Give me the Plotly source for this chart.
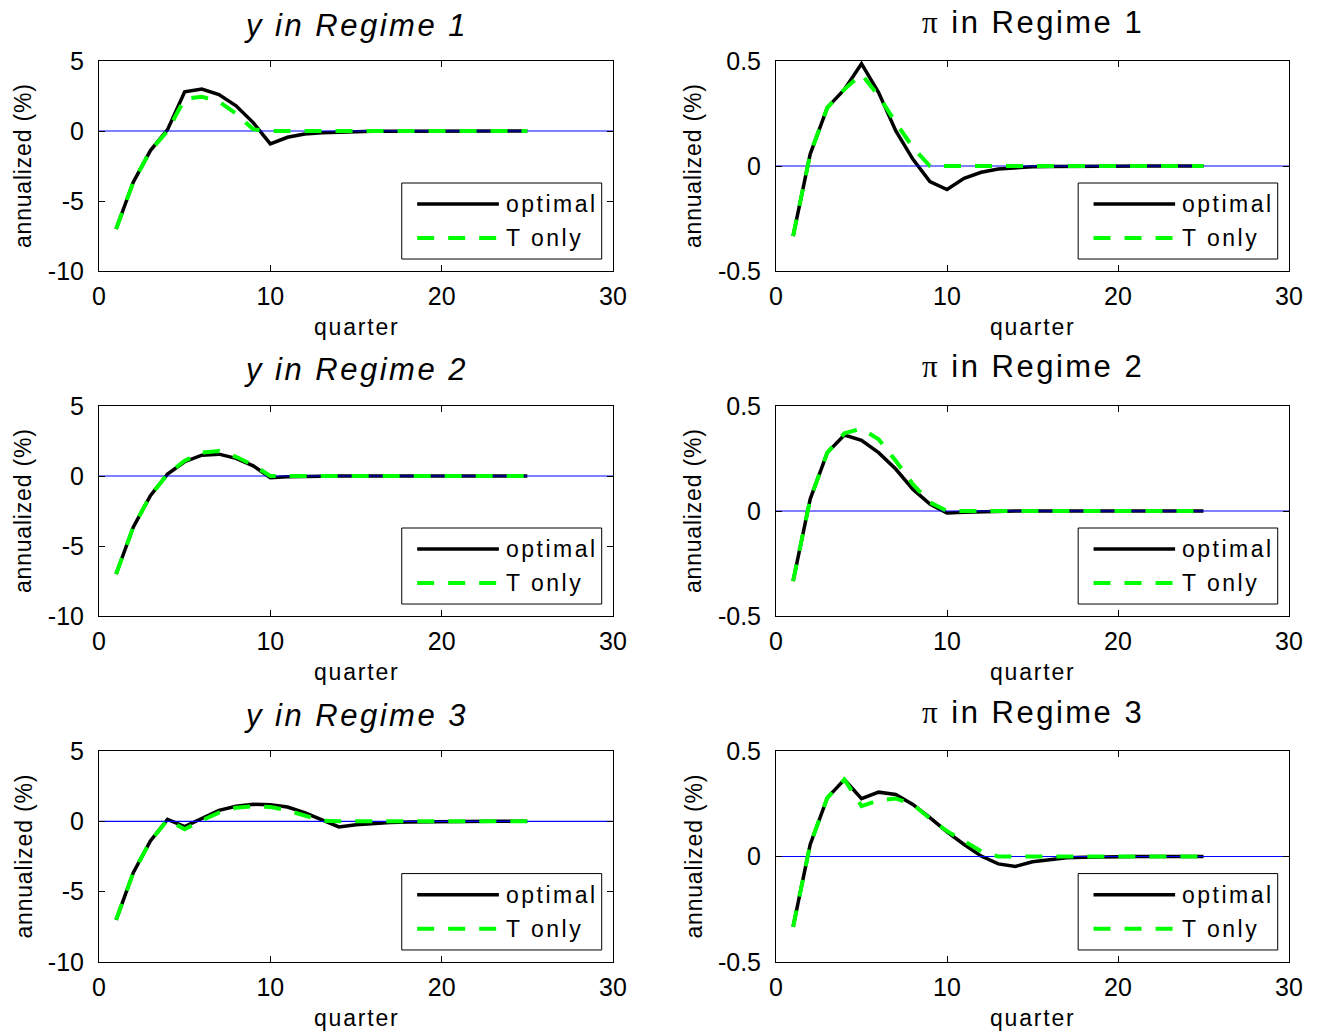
import plotly.graph_objects as go

# ---------------- data ----------------
quarter = list(range(1, 26))

y_r1_optimal = [-7.0, -3.65, -1.4, 0.1, 2.8, 3.0, 2.6, 1.8, 0.6, -0.92, -0.45, -0.22, -0.12,
                -0.07, -0.04, -0.02, -0.01, 0, 0, 0, 0, 0, 0, 0, 0]
y_r1_tonly = [-7.0, -3.65, -1.4, 0.0, 2.3, 2.45, 2.1, 1.25, 0.12, 0, 0, 0, 0,
              0, 0, 0, 0, 0, 0, 0, 0, 0, 0, 0, 0]

pi_r1_optimal = [-0.334, 0.057, 0.278, 0.365, 0.487, 0.35, 0.168, 0.033, -0.074, -0.112, -0.059,
                 -0.03, -0.014, -0.008, -0.004, -0.002, -0.001, 0, 0, 0, 0, 0, 0, 0, 0]
pi_r1_tonly = [-0.334, 0.057, 0.278, 0.365, 0.437, 0.334, 0.207, 0.089, 0.0, 0, 0,
               0, 0, 0, 0, 0, 0, 0, 0, 0, 0, 0, 0, 0, 0]

y_r2_optimal = [-7.0, -3.65, -1.4, 0.14, 1.02, 1.49, 1.56, 1.26, 0.73, -0.12, -0.05, -0.02,
                -0.01, 0, 0, 0, 0, 0, 0, 0, 0, 0, 0, 0, 0]
y_r2_tonly = [-7.0, -3.65, -1.4, 0.14, 1.09, 1.68, 1.78, 1.37, 0.78, 0.0, 0, 0,
              0, 0, 0, 0, 0, 0, 0, 0, 0, 0, 0, 0, 0]

pi_r2_optimal = [-0.334, 0.057, 0.278, 0.362, 0.337, 0.278, 0.2, 0.104, 0.033, -0.01, -0.006,
                 -0.003, -0.001, 0, 0, 0, 0, 0, 0, 0, 0, 0, 0, 0, 0]
pi_r2_tonly = [-0.334, 0.057, 0.278, 0.37, 0.392, 0.342, 0.239, 0.128, 0.041, 0.0, 0,
               0, 0, 0, 0, 0, 0, 0, 0, 0, 0, 0, 0, 0, 0]

y_r3_optimal = [-7.0, -3.65, -1.4, 0.14, -0.38, 0.21, 0.78, 1.07, 1.21, 1.18, 1.02, 0.62, 0.12,
                -0.4, -0.24, -0.14, -0.09, -0.05, -0.03, -0.015, -0.008, 0, 0, 0, 0]
y_r3_tonly = [-7.0, -3.65, -1.4, 0.1, -0.57, 0.07, 0.62, 0.97, 1.07, 1.02, 0.78, 0.38, 0.05,
              0, 0, 0, 0, 0, 0, 0, 0, 0, 0, 0, 0]

pi_r3_optimal = [-0.334, 0.057, 0.278, 0.365, 0.274, 0.305, 0.294, 0.247, 0.184, 0.117, 0.057,
                 0.002, -0.035, -0.047, -0.025, -0.014, -0.006, -0.003, -0.001, 0, 0, 0, 0, 0, 0]
pi_r3_tonly = [-0.334, 0.057, 0.278, 0.365, 0.239, 0.266, 0.275, 0.247, 0.18, 0.12, 0.073,
               0.025, 0.0, 0, 0, 0, 0, 0, 0, 0, 0, 0, 0, 0, 0]

zero_x = [0, 30]
zero_y = [0, 0]

x_range = [0, 30]
x_tickvals = [0, 10, 20, 30]
x_ticktext = ["0", "10", "20", "30"]
y_range = [-10, 5]
y_tickvals = [-10, -5, 0, 5]
y_ticktext = ["-10", "-5", "0", "5"]
pi_range = [-0.5, 0.5]
pi_tickvals = [-0.5, 0, 0.5]
pi_ticktext = ["-0.5", "0", "0.5"]

panel_titles = ["y in Regime 1", "π in Regime 1",
                "y in Regime 2", "π in Regime 2",
                "y in Regime 3", "π in Regime 3"]
series_names = ["optimal", "T only"]
x_label = "quarter"
y_label = "annualized (%)"

panels = [
    (y_r1_optimal, y_r1_tonly), (pi_r1_optimal, pi_r1_tonly),
    (y_r2_optimal, y_r2_tonly), (pi_r2_optimal, pi_r2_tonly),
    (y_r3_optimal, y_r3_tonly), (pi_r3_optimal, pi_r3_tonly),
]

# ---------------- layout geometry (pixels) ----------------
W, H = 1322, 1032
col_px = [(99, 613), (776, 1289)]
row_px = [(61, 271), (406, 616), (751, 962)]

FONT = "Liberation Sans"
DASH = "17px,14px"


def fx(px):
    return px / W


def fy(py):
    return 1 - py / H


def spaced(text, sp):
    return f'<span style="letter-spacing:{sp}px">{text}</span>'


fig = go.Figure()
annotations = []
shapes = []

for i, (opt, tonly) in enumerate(panels):
    r, c = divmod(i, 2)
    n = i + 1
    xa = "x" if n == 1 else f"x{n}"
    ya = "y" if n == 1 else f"y{n}"
    fig.add_trace(go.Scatter(x=quarter, y=opt, mode="lines", name=series_names[0],
                             line=dict(color="black", width=3.5), xaxis=xa, yaxis=ya,
                             showlegend=False))
    fig.add_trace(go.Scatter(x=zero_x, y=zero_y, mode="lines", line=dict(color="#0000ff", width=1.2),
                             xaxis=xa, yaxis=ya, showlegend=False, hoverinfo="skip"))
    fig.add_trace(go.Scatter(x=quarter, y=tonly, mode="lines", name=series_names[1],
                             line=dict(color="#00ff00", width=4, dash=DASH),
                             xaxis=xa, yaxis=ya, showlegend=False))

    x0, x1 = col_px[c]
    t, b = row_px[r]
    axis_common = dict(showline=True, linecolor="black", linewidth=1, mirror="ticks",
                       ticks="inside", ticklen=6, tickcolor="black", tickwidth=1,
                       showgrid=False, zeroline=False, automargin=False,
                       tickfont=dict(family=FONT, size=25, color="black"))
    xkey = "xaxis" if n == 1 else f"xaxis{n}"
    ykey = "yaxis" if n == 1 else f"yaxis{n}"
    fig.layout[xkey] = dict(domain=[fx(x0), fx(x1)], anchor=ya, range=x_range,
                            tickmode="array", tickvals=x_tickvals, ticktext=x_ticktext,
                            ticklabelstandoff=3, **axis_common)
    if c == 0:
        yr, yv, yt = y_range, y_tickvals, y_ticktext
    else:
        yr, yv, yt = pi_range, pi_tickvals, pi_ticktext
    fig.layout[ykey] = dict(domain=[fy(b), fy(t)], anchor=xa, range=yr,
                            tickmode="array", tickvals=yv, ticktext=yt,
                            ticklabelstandoff=9, **axis_common)

    cx = (x0 + x1) / 2
    cy = (t + b) / 2
    # title
    if c == 0:
        annotations.append(dict(text=spaced(panel_titles[i], 2.5), x=fx(cx), y=fy(t - 36),
                                xref="paper", yref="paper", showarrow=False,
                                xanchor="center", yanchor="middle",
                                font=dict(family=FONT, size=31, color="black", style="italic")))
    else:
        ttl = panel_titles[i].replace("π", "<span style=\"font-family:'Liberation Serif'\">π</span>")
        annotations.append(dict(text=spaced(ttl, 2.5), x=fx(cx), y=fy(t - 39),
                                xref="paper", yref="paper", showarrow=False,
                                xanchor="center", yanchor="middle",
                                font=dict(family=FONT, size=31, color="black")))
    # x label
    annotations.append(dict(text=spaced(x_label, 1.8), x=fx(cx), y=fy(b + 56),
                            xref="paper", yref="paper", showarrow=False,
                            xanchor="center", yanchor="middle",
                            font=dict(family=FONT, size=23, color="black")))
    # y label
    ylx = 23 if c == 0 else 693
    annotations.append(dict(text=spaced(y_label, 0.8), x=fx(ylx), y=fy(cy), textangle=-90,
                            xref="paper", yref="paper", showarrow=False,
                            xanchor="center", yanchor="middle",
                            font=dict(family=FONT, size=23, color="black")))
    # legend box
    xd = f"{xa} domain"
    yd = f"{ya} domain"
    shapes.append(dict(type="rect", xref=xd, yref=yd, x0=0.589, x1=0.978, y0=0.057, y1=0.419,
                       line=dict(color="black", width=1), fillcolor="white", layer="above"))
    shapes.append(dict(type="line", xref=xd, yref=yd, x0=0.619, x1=0.778, y0=0.319, y1=0.319,
                       line=dict(color="black", width=3.5), layer="above"))
    shapes.append(dict(type="line", xref=xd, yref=yd, x0=0.619, x1=0.778, y0=0.157, y1=0.157,
                       line=dict(color="#00ff00", width=4, dash=DASH), layer="above"))
    for k, yy in enumerate([0.319, 0.157]):
        annotations.append(dict(text=spaced(series_names[k], 2.5), x=0.788, y=yy,
                                xref=xd, yref=yd, showarrow=False,
                                xanchor="left", yanchor="middle",
                                font=dict(family=FONT, size=23, color="black")))

fig.update_layout(width=W, height=H, autosize=False,
                  margin=dict(l=0, r=0, t=0, b=0, pad=0, autoexpand=False),
                  paper_bgcolor="white", plot_bgcolor="white",
                  annotations=annotations, shapes=shapes, showlegend=False)

fig.write_html("out.html", config={"displayModeBar": False},
               post_script="document.body.style.margin='0';")
